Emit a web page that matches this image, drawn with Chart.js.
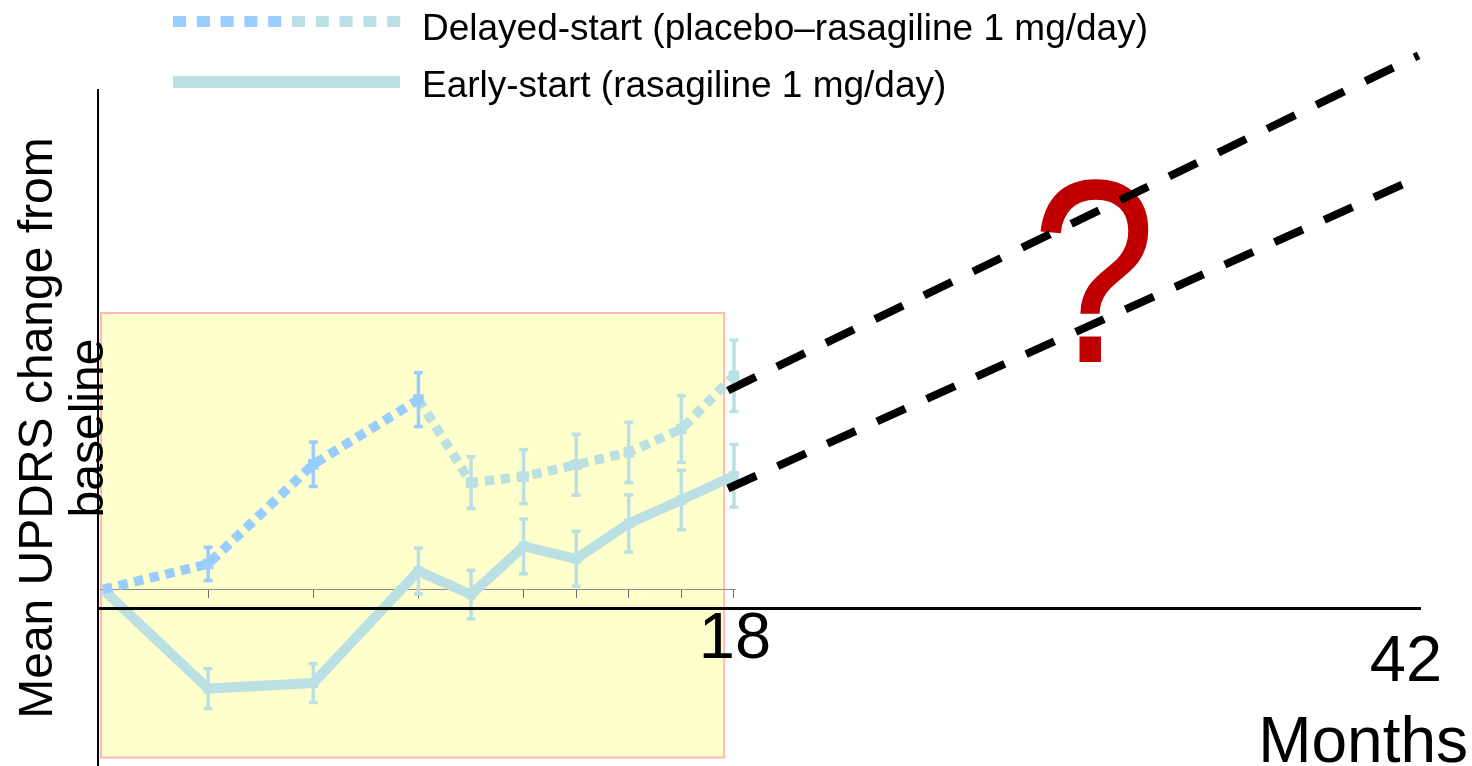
<!DOCTYPE html>
<html>
<head>
<meta charset="utf-8">
<title>UPDRS change from baseline – delayed-start vs early-start</title>
<script src="https://cdn.jsdelivr.net/npm/chart.js@4.4.1/dist/chart.umd.min.js"></script>
<style>
  html, body { margin: 0; padding: 0; background: #ffffff; }
  #wrap { position: relative; width: 1472px; height: 766px; overflow: hidden; }
  #wrap canvas { position: absolute; left: 0; top: 0; }
</style>
</head>
<body>
<div id="wrap">
  <canvas id="study" width="1472" height="766"></canvas>
  <canvas id="outlook" width="1472" height="766"></canvas>
</div>
<script>
// ---- data -----------------------------------------------------------------
// study visits (months) and mean UPDRS change from baseline, with error bars
const visitMonths   = [0, 3, 6, 9, 10.5, 12, 13.5, 15, 16.5, 18];
const delayedStart  = [0, 0.64, 3.15, 4.78, 2.69, 2.84, 3.14, 3.45, 4.04, 5.38];
const delayedErr    = [0, 0.42, 0.56, 0.68, 0.65, 0.68, 0.77, 0.76, 0.84, 0.90];
const earlyStart    = [0, -2.50, -2.36, 0.46, -0.13, 1.08, 0.77, 1.66, 2.25, 2.86];
const earlyErr      = [0, 0.50, 0.49, 0.58, 0.61, 0.69, 0.69, 0.72, 0.75, 0.79];
const placeboVisits = 3;               // delayed-start group on placebo up to month 9
const studyTicks    = [3, 6, 9, 10.5, 12, 13.5, 15, 16.5, 18];

// open-ended projection beyond the study period
const projMonths    = [17.75, 42.45];
const delayedProj   = [5.45, 13.83];
const earlyProj     = [3.00, 10.78];
const outlookTicks  = [18, 42];

const seriesLabels  = ['Delayed-start (placebo–rasagiline 1 mg/day)', 'Early-start (rasagiline 1 mg/day)'];
const yTitle        = ['Mean UPDRS change from', 'baseline'];
const xTitle        = 'Months';

// ---- styling --------------------------------------------------------------
const FONT  = '"Liberation Sans", Arial, Helvetica, sans-serif';
const BLUE  = '#99CCFF';
const TEAL  = '#BBE0E3';
const RED   = '#C00000';
Chart.defaults.font.family = FONT;
Chart.defaults.color = '#000000';

const toPoints = (xs, ys) => xs.map((x, i) => ({ x, y: ys[i] }));

// shaded box behind the study period
const studyBox = {
  id: 'studyBox',
  beforeDraw(chart, args, o) {
    const { ctx, chartArea: a, scales: { x } } = chart;
    const right = x.getPixelForValue(o.endMonth);
    ctx.save();
    ctx.fillStyle = o.fill;
    ctx.fillRect(a.left, a.top, right - a.left, a.bottom - a.top);
    ctx.strokeStyle = o.stroke;
    ctx.lineWidth = 2;
    ctx.strokeRect(a.left + 1, a.top + 1, right - a.left - 2, a.bottom - a.top - 2);
    ctx.restore();
  }
};

// vertical error bars with caps
const errorBars = {
  id: 'errorBars',
  afterDatasetsDraw(chart, args, o) {
    const { ctx, scales: { x, y } } = chart;
    ctx.save();
    chart.data.datasets.forEach(ds => {
      if (!ds.errors) return;
      ds.data.forEach((p, i) => {
        const e = ds.errors[i];
        if (!e) return;
        const px = x.getPixelForValue(p.x);
        const top = y.getPixelForValue(p.y + e);
        const bot = y.getPixelForValue(p.y - e);
        ctx.fillStyle = Array.isArray(ds.pointBackgroundColor) ? ds.pointBackgroundColor[i] : ds.pointBackgroundColor;
        ctx.fillRect(px - o.stem / 2, top, o.stem, bot - top);
        ctx.fillRect(px - o.cap / 2, top - o.stem / 2, o.cap, o.stem);
        ctx.fillRect(px - o.cap / 2, bot - o.stem / 2, o.cap, o.stem);
      });
    });
    ctx.restore();
  }
};

// two-row legend in the top-left corner
const stackedLegend = {
  id: 'stackedLegend',
  afterDraw(chart, args, o) {
    const { ctx } = chart;
    ctx.save();
    chart.data.datasets.forEach((ds, i) => {
      const cy = o.swatchY[i];
      if (ds.borderDash && ds.borderDash.length) {
        for (let k = 0; k < o.dots; k++) {
          ctx.fillStyle = k < o.dots / 2 ? BLUE : TEAL;
          ctx.fillRect(o.left + k * o.dotStep, cy - o.dotH / 2, o.dotW, o.dotH);
        }
      } else {
        ctx.fillStyle = ds.borderColor;
        ctx.fillRect(o.left, cy - o.barH / 2, o.width, o.barH);
      }
      ctx.fillStyle = '#000';
      ctx.font = `${o.fontSize}px ${FONT}`;
      ctx.textAlign = 'left';
      ctx.textBaseline = 'alphabetic';
      ctx.fillText(ds.label, o.textX, o.textY[i]);
    });
    ctx.restore();
  }
};

// question mark and the months caption on the outlook axes
const outlookNotes = {
  id: 'outlookNotes',
  beforeDatasetsDraw(chart, args, o) {
    const { ctx, scales: { x, y } } = chart;
    ctx.save();
    ctx.translate(x.getPixelForValue(o.markAt.x), y.getPixelForValue(o.markAt.y));
    ctx.scale(o.markStretch, 1);
    ctx.fillStyle = RED;
    ctx.font = `${o.markSize}px ${FONT}`;
    ctx.textAlign = 'center';
    ctx.textBaseline = 'alphabetic';
    ctx.fillText('?', 0, 0);
    ctx.restore();
  },
  afterDraw(chart, args, o) {
    const { ctx, chartArea: a, scales: { x } } = chart;
    ctx.save();
    ctx.fillStyle = '#000';
    ctx.font = `${o.captionSize}px ${FONT}`;
    ctx.textAlign = 'right';
    ctx.textBaseline = 'alphabetic';
    ctx.fillText(xTitle, x.right + o.captionDx, a.bottom - o.captionDy);
    ctx.restore();
  }
};

// ---- study period chart (lower layer) -------------------------------------
new Chart(document.getElementById('study'), {
  type: 'line',
  data: {
    datasets: [
      {
        label: seriesLabels[0],
        data: toPoints(visitMonths, delayedStart),
        errors: delayedErr,
        borderColor: TEAL,
        borderWidth: 9.5,
        borderDash: [9.5, 6.5],
        borderCapStyle: 'butt',
        segment: { borderColor: c => (c.p0DataIndex < placeboVisits ? BLUE : TEAL) },
        pointStyle: 'rect',
        pointRadius: visitMonths.map((m, i) => (i === 0 ? 0 : 7.5)),
        pointBackgroundColor: visitMonths.map((m, i) => (i <= placeboVisits ? BLUE : TEAL)),
        pointBorderWidth: 0,
        tension: 0,
        clip: false
      },
      {
        label: seriesLabels[1],
        data: toPoints(visitMonths, earlyStart),
        errors: earlyErr,
        borderColor: TEAL,
        borderWidth: 10,
        pointStyle: 'rect',
        pointRadius: visitMonths.map((m, i) => (i === 0 ? 0 : 7)),
        pointBackgroundColor: TEAL,
        pointBorderWidth: 0,
        tension: 0,
        clip: false
      }
    ]
  },
  options: {
    responsive: false,
    animation: false,
    events: [],
    layout: { padding: { left: 100, right: 737, top: 312, bottom: 4 } },
    plugins: {
      legend: { display: false },
      tooltip: { enabled: false },
      studyBox: { endMonth: 17.75, fill: '#FFFFCC', stroke: '#FFB8B8' },
      errorBars: { stem: 3.5, cap: 9 },
      stackedLegend: {
        left: 173, width: 227, dots: 10, dotStep: 23.8, dotW: 13, dotH: 11, barH: 12,
        swatchY: [21.5, 82], textX: 422, textY: [39.5, 97], fontSize: 37
      }
    },
    scales: {
      x: {
        type: 'linear', min: -0.085, max: 18.03,
        position: { y: 0 },
        afterBuildTicks: s => { s.ticks = studyTicks.map(v => ({ value: v })); },
        ticks: { display: false },
        grid: { display: true, drawOnChartArea: false, drawTicks: true, tickLength: 8, color: '#6e6e6e', lineWidth: 1 },
        border: { display: true, color: '#8c8c8c', width: 1 }
      },
      y: { type: 'linear', min: -4.2625, max: 6.9875, display: false }
    }
  },
  plugins: [studyBox, errorBars, stackedLegend]
});

// ---- outlook chart (upper layer): axes and projections ---------------------
new Chart(document.getElementById('outlook'), {
  type: 'line',
  data: {
    datasets: [
      {
        label: 'Delayed-start projection',
        data: toPoints(projMonths, delayedProj),
        borderColor: '#000', borderWidth: 8, borderDash: [31, 23.5], borderCapStyle: 'butt',
        pointRadius: 0, tension: 0, clip: false
      },
      {
        label: 'Early-start projection',
        data: toPoints(projMonths, earlyProj),
        borderColor: '#000', borderWidth: 8, borderDash: [31, 23.5], borderCapStyle: 'butt',
        pointRadius: 0, tension: 0, clip: false
      }
    ]
  },
  options: {
    responsive: false,
    animation: false,
    events: [],
    layout: { padding: { left: 0, top: 90, right: 52, bottom: 0 } },
    plugins: {
      legend: { display: false },
      tooltip: { enabled: false },
      outlookNotes: {
        markSize: 262, markStretch: 0.86, markAt: { x: 30.84, y: 6.16 },
        captionSize: 64, captionDx: 48, captionDy: 4
      }
    },
    scales: {
      x: {
        type: 'linear', min: -4.78, max: 42.5,
        position: { y: 0 },
        afterBuildTicks: s => { s.ticks = outlookTicks.map(v => ({ value: v })); },
        grid: { display: false, drawTicks: false },
        border: { display: true, color: '#000', width: 3 },
        ticks: {
          color: '#000', padding: 0, maxRotation: 0, autoSkip: false,
          callback: v => String(v),
          font: c => ({ size: 65, lineHeight: (c.tick && c.tick.value === 42) ? 1.692 : 0.985 })
        }
      },
      y: {
        type: 'linear', min: -3.9375, max: 12.9625, position: 'left',
        grid: { display: false, drawTicks: false },
        border: { display: true, color: '#000', width: 2 },
        ticks: { display: false },
        title: {
          display: true, text: yTitle, color: '#000',
          font: { size: 48, lineHeight: 1.06 },
          padding: { top: 13.1, bottom: -16.86 }
        }
      }
    }
  },
  plugins: [outlookNotes]
});
</script>
</body>
</html>
